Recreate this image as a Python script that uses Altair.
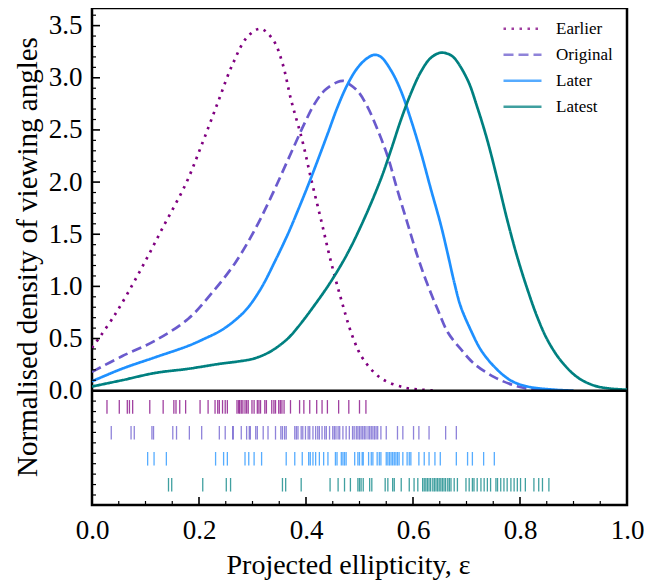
import altair as alt
import pandas as pd

SERIES = ["Earlier", "Original", "Later", "Latest"]
COLORS = ["#800080", "#6A5ACD", "#1E90FF", "#008080"]
DASHES = [[2.5, 5.5], [10, 5], [1, 0], [1, 0]]

# ---- density curves ----
earlier_x = [0.000, 0.043, 0.089, 0.133, 0.176, 0.206, 0.235, 0.262, 0.290, 0.315,
             0.339, 0.356, 0.372, 0.393, 0.410, 0.428, 0.446, 0.466, 0.487, 0.506,
             0.540, 0.584, 0.615, 0.640]
earlier_y = [0.41, 0.73, 1.14, 1.57, 1.99, 2.37, 2.76, 3.12, 3.39, 3.47,
             3.36, 3.14, 2.79, 2.40, 2.02, 1.64, 1.25, 0.87, 0.52, 0.31,
             0.12, 0.03, 0.01, 0.00]

original_x = [0.000, 0.056, 0.118, 0.180, 0.223, 0.267, 0.304, 0.335, 0.366, 0.397,
              0.416, 0.435, 0.459, 0.470, 0.478, 0.497, 0.515, 0.534, 0.553, 0.571,
              0.590, 0.609, 0.627, 0.646, 0.665, 0.689, 0.714, 0.752, 0.789, 0.814,
              0.850]
original_y = [0.18, 0.33, 0.48, 0.69, 0.93, 1.22, 1.54, 1.86, 2.21, 2.56,
              2.75, 2.88, 2.96, 2.97, 2.95, 2.87, 2.72, 2.50, 2.24, 1.92,
              1.60, 1.28, 1.02, 0.78, 0.56, 0.40, 0.26, 0.13, 0.05, 0.02,
              0.00]

later_x = [0.000, 0.056, 0.118, 0.180, 0.211, 0.242, 0.273, 0.292, 0.317, 0.341,
           0.366, 0.385, 0.404, 0.422, 0.441, 0.459, 0.478, 0.497, 0.515, 0.528,
           0.540, 0.559, 0.577, 0.596, 0.615, 0.633, 0.652, 0.665, 0.677, 0.689,
           0.708, 0.727, 0.752, 0.782, 0.814, 0.863, 0.900]
later_y = [0.09, 0.21, 0.32, 0.43, 0.50, 0.58, 0.70, 0.80, 0.99, 1.23,
           1.50, 1.73, 1.97, 2.21, 2.47, 2.72, 2.94, 3.10, 3.19, 3.22,
           3.20, 3.07, 2.88, 2.60, 2.28, 1.94, 1.59, 1.31, 1.04, 0.81,
           0.58, 0.39, 0.23, 0.10, 0.04, 0.01, 0.00]

latest_x = [0.000, 0.056, 0.118, 0.180, 0.242, 0.273, 0.304, 0.335, 0.366, 0.385,
            0.416, 0.447, 0.478, 0.509, 0.540, 0.559, 0.577, 0.596, 0.615, 0.633,
            0.651, 0.665, 0.677, 0.702, 0.720, 0.739, 0.758, 0.776, 0.795, 0.814,
            0.832, 0.851, 0.876, 0.907, 0.938, 0.969, 1.000]
latest_y = [0.04, 0.10, 0.17, 0.21, 0.26, 0.28, 0.31, 0.38, 0.50, 0.61,
            0.82, 1.05, 1.32, 1.65, 2.03, 2.31, 2.59, 2.85, 3.06, 3.19,
            3.24, 3.23, 3.19, 2.98, 2.72, 2.40, 2.02, 1.64, 1.28, 0.97,
            0.71, 0.49, 0.29, 0.13, 0.05, 0.02, 0.01]

# ---- rug values ----
earlier_rug = [0.028, 0.051, 0.066, 0.070, 0.076, 0.108, 0.133, 0.153, 0.157, 0.164,
               0.175, 0.202, 0.217, 0.230, 0.235, 0.238, 0.244, 0.249, 0.253, 0.271,
               0.274, 0.276, 0.279, 0.282, 0.286, 0.289, 0.292, 0.299, 0.303, 0.309,
               0.312, 0.315, 0.323, 0.326, 0.336, 0.340, 0.343, 0.349, 0.352, 0.355,
               0.359, 0.371, 0.388, 0.396, 0.407, 0.420, 0.430, 0.440, 0.461, 0.480,
               0.500, 0.512]
original_rug = [0.036, 0.073, 0.079, 0.112, 0.115, 0.151, 0.158, 0.182, 0.205, 0.238,
                0.249, 0.263, 0.264, 0.279, 0.289, 0.294, 0.296, 0.306, 0.309, 0.320,
                0.329, 0.343, 0.353, 0.356, 0.360, 0.363, 0.379, 0.382, 0.385, 0.391,
                0.394, 0.399, 0.404, 0.407, 0.413, 0.418, 0.422, 0.425, 0.430, 0.435,
                0.438, 0.444, 0.450, 0.453, 0.456, 0.460, 0.463, 0.469, 0.475, 0.481,
                0.487, 0.490, 0.494, 0.497, 0.500, 0.503, 0.506, 0.509, 0.512, 0.516,
                0.519, 0.522, 0.525, 0.528, 0.531, 0.534, 0.540, 0.550, 0.571, 0.581,
                0.601, 0.611, 0.630, 0.661, 0.681]
later_rug = [0.104, 0.116, 0.139, 0.231, 0.246, 0.253, 0.286, 0.293, 0.303, 0.317,
             0.363, 0.379, 0.393, 0.405, 0.408, 0.413, 0.418, 0.425, 0.433, 0.441,
             0.455, 0.458, 0.466, 0.469, 0.472, 0.475, 0.491, 0.497, 0.500, 0.505,
             0.507, 0.517, 0.522, 0.525, 0.533, 0.537, 0.540, 0.550, 0.553, 0.556,
             0.559, 0.562, 0.565, 0.568, 0.571, 0.574, 0.581, 0.589, 0.593, 0.596,
             0.611, 0.621, 0.630, 0.641, 0.651, 0.681, 0.702, 0.711, 0.732, 0.752]
latest_rug = [0.143, 0.149, 0.207, 0.251, 0.259, 0.356, 0.362, 0.391, 0.445, 0.460,
              0.472, 0.483, 0.497, 0.500, 0.503, 0.507, 0.519, 0.523, 0.548, 0.553,
              0.562, 0.565, 0.578, 0.593, 0.602, 0.609, 0.618, 0.621, 0.624, 0.627,
              0.630, 0.633, 0.637, 0.640, 0.643, 0.646, 0.649, 0.652, 0.655, 0.658,
              0.661, 0.665, 0.668, 0.671, 0.677, 0.683, 0.699, 0.705, 0.711, 0.714,
              0.720, 0.727, 0.733, 0.739, 0.745, 0.755, 0.758, 0.764, 0.770, 0.776,
              0.783, 0.789, 0.795, 0.801, 0.810, 0.826, 0.835, 0.842, 0.854]

X_MAJOR = [0.0, 0.2, 0.4, 0.6, 0.8, 1.0]
X_MINOR = [0.05, 0.1, 0.15, 0.25, 0.3, 0.35, 0.45, 0.5, 0.55, 0.65, 0.7, 0.75, 0.85, 0.9, 0.95]
Y_MAJOR = [0.0, 0.5, 1.0, 1.5, 2.0, 2.5, 3.0, 3.5]
Y_MINOR = [-1.0, -0.9, -0.8, -0.7, -0.6, -0.5, -0.4, -0.3, -0.2, -0.1,
           0.1, 0.2, 0.3, 0.4, 0.6, 0.7, 0.8, 0.9, 1.1, 1.2, 1.3, 1.4,
           1.6, 1.7, 1.8, 1.9, 2.1, 2.2, 2.3, 2.4, 2.6, 2.7, 2.8, 2.9,
           3.1, 3.2, 3.3, 3.4, 3.6]

# ---- build tables ----
curve_rows = []
for name, xs, ys in [("Earlier", earlier_x, earlier_y), ("Original", original_x, original_y),
                     ("Later", later_x, later_y), ("Latest", latest_x, latest_y)]:
    for xv, yv in zip(xs, ys):
        curve_rows.append({"series": name, "x": xv, "y": yv})
curves = pd.DataFrame(curve_rows)

ROW_TOP, ROW_STEP, ROW_H = -0.09, 0.249, 0.13
rug_rows = []
for i, (name, vals) in enumerate([("Earlier", earlier_rug), ("Original", original_rug),
                                  ("Later", later_rug), ("Latest", latest_rug)]):
    top = ROW_TOP - ROW_STEP * i
    for v in vals:
        rug_rows.append({"series": name, "x": v, "top": top, "bot": top - ROW_H,
                         "col": COLORS[i]})
rug = pd.DataFrame(rug_rows)

W, H = 535, 497
Y0, Y1 = -1.096, 3.669
FONT = "'Liberation Serif', 'Times New Roman', Times, serif"
FS = 27

xscale = alt.Scale(domain=[0, 1], nice=False, zero=False)
yscale = alt.Scale(domain=[Y0, Y1], nice=False, zero=False)

leg = alt.Legend(title=None, orient="none", legendX=410, legendY=8,
                 symbolType="stroke", symbolSize=1444, symbolStrokeWidth=2.7,
                 labelFont=FONT, labelFontSize=17, labelColor="black",
                 clipHeight=25.5, rowPadding=0, labelOffset=13, padding=0)

lines = alt.Chart(curves).mark_line(strokeWidth=2.7, interpolate="catmull-rom", clip=True).encode(
    x=alt.X("x:Q", scale=xscale,
            axis=alt.Axis(values=X_MAJOR, format=".1f", title="Projected ellipticity, ε",
                          titleFontSize=28, labelPadding=12, titlePadding=8,
                          labelFlush=False, titleX=256)),
    y=alt.Y("y:Q", scale=yscale,
            axis=alt.Axis(values=Y_MAJOR, format=".1f",
                          title="Normalised density of viewing angles", titleFontSize=29,
                          labelPadding=10, titlePadding=6, labelFlush=False)),
    color=alt.Color("series:N", scale=alt.Scale(domain=SERIES, range=COLORS), legend=leg),
    strokeDash=alt.StrokeDash("series:N", scale=alt.Scale(domain=SERIES, range=DASHES), legend=leg),
)

rugs = alt.Chart(rug).mark_rule(strokeWidth=1.3, opacity=0.75).encode(
    x=alt.X("x:Q", scale=xscale, axis=None),
    y=alt.Y("top:Q", scale=yscale, axis=None),
    y2="bot:Q",
    color=alt.Color("col:N", scale=None),
)

sep = alt.Chart(pd.DataFrame({"v": [0.0]})).mark_rule(color="black", strokeWidth=2.5).encode(
    y=alt.Y("v:Q", scale=yscale, axis=None))

ymaj = alt.Chart(pd.DataFrame({"v": Y_MAJOR})).mark_rule(color="black", strokeWidth=1.6).encode(
    y=alt.Y("v:Q", scale=yscale, axis=None), x=alt.value(0), x2=alt.value(8))
ymin = alt.Chart(pd.DataFrame({"v": Y_MINOR})).mark_rule(color="black", strokeWidth=1.2).encode(
    y=alt.Y("v:Q", scale=yscale, axis=None), x=alt.value(0), x2=alt.value(4))
xmaj = alt.Chart(pd.DataFrame({"v": X_MAJOR})).mark_rule(color="black", strokeWidth=1.6).encode(
    x=alt.X("v:Q", scale=xscale, axis=None), y=alt.value(H), y2=alt.value(H - 8))
xmin = alt.Chart(pd.DataFrame({"v": X_MINOR})).mark_rule(color="black", strokeWidth=1.2).encode(
    x=alt.X("v:Q", scale=xscale, axis=None), y=alt.value(H), y2=alt.value(H - 4))

chart = alt.layer(lines, rugs, sep, ymaj, ymin, xmaj, xmin).resolve_axis(
    x="independent", y="independent"
).properties(
    width=W, height=H,
    autosize=alt.AutoSizeParams(type="none"),
    padding={"left": 84, "top": 0, "right": 17, "bottom": 77},
).configure_view(stroke="black", strokeWidth=2.5).configure_axis(
    grid=False, ticks=False, domain=False,
    labelFont=FONT, labelFontSize=FS, labelColor="black",
    titleFont=FONT, titleFontSize=FS, titleFontWeight="normal", titleColor="black",
)

chart.save("out.html", embed_options={"renderer": "svg", "actions": False})
